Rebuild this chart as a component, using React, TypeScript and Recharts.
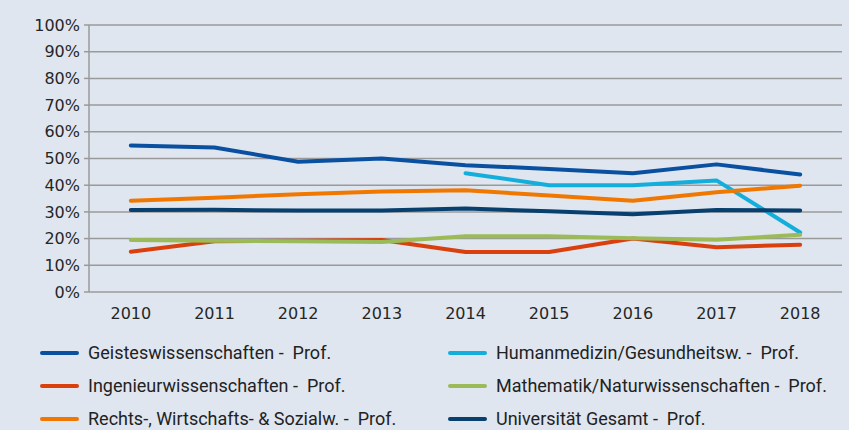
import React from 'react';
import { LineChart, Line, XAxis, YAxis, CartesianGrid } from 'recharts';

const years = ['2010', '2011', '2012', '2013', '2014', '2015', '2016', '2017', '2018'];
const geistes = [54.9, 54.1, 48.8, 50.0, 47.5, 46.1, 44.5, 47.8, 44.0];
const human = [null, null, null, null, 44.5, 40.0, 40.0, 41.8, 22.3];
const ingenieur = [15.1, 19.0, 19.2, 19.5, 15.0, 15.0, 20.0, 16.8, 17.7];
const mathe = [19.5, 19.2, 19.0, 18.7, 20.9, 20.9, 20.1, 19.6, 21.4];
const rechts = [34.2, 35.3, 36.6, 37.6, 38.1, 36.1, 34.2, 37.4, 39.8];
const gesamt = [30.7, 30.8, 30.5, 30.5, 31.3, 30.2, 29.1, 30.7, 30.5];
const yTicks = [0, 10, 20, 30, 40, 50, 60, 70, 80, 90, 100];
const boundaryTicks = [0, 1, 2, 3, 4, 5, 6, 7, 8, 9];

const series = [
  { key: 'geistes', name: 'Geisteswissenschaften -  Prof.', color: '#0a50a0', values: geistes },
  { key: 'human', name: 'Humanmedizin/Gesundheitsw. -  Prof.', color: '#13aedc', values: human },
  { key: 'ingenieur', name: 'Ingenieurwissenschaften -  Prof.', color: '#d9400e', values: ingenieur },
  { key: 'mathe', name: 'Mathematik/Naturwissenschaften -  Prof.', color: '#9bbb59', values: mathe },
  { key: 'rechts', name: 'Rechts-, Wirtschafts- & Sozialw. -  Prof.', color: '#f07800', values: rechts },
  { key: 'gesamt', name: 'Universität Gesamt -  Prof.', color: '#073f6e', values: gesamt },
];

const data = years.map((y, i) => {
  const row: any = { year: y };
  series.forEach((s) => {
    row[s.key] = s.values[i];
  });
  return row;
});

const axisFont = { fontFamily: 'DejaVu Sans', fontSize: 16, fill: '#262626' };
const gridColor = '#9a9a9a';

export default function App() {
  return (
    <div
      style={{
        position: 'absolute',
        left: 0,
        top: 0,
        width: 849,
        height: 430,
        background: '#dfe6f0',
        overflow: 'hidden',
      }}
    >
      <LineChart width={849} height={430} data={data} margin={{ top: 25, right: 7, bottom: 108, left: 0 }}>
        <CartesianGrid vertical={false} stroke={gridColor} strokeWidth={1.5} />
        <XAxis
          xAxisId="bounds"
          type="number"
          domain={[0, 9]}
          ticks={boundaryTicks}
          tick={false}
          height={0}
          tickSize={6}
          stroke={gridColor}
          strokeWidth={1.5}
          allowDataOverflow
        />
        <XAxis
          xAxisId="cat"
          dataKey="year"
          scale="band"
          height={30}
          axisLine={false}
          tickLine={false}
          tickSize={6}
          tickMargin={10}
          tick={axisFont}
        />
        <YAxis
          domain={[0, 100]}
          ticks={yTicks}
          width={89}
          tickFormatter={(v) => `${v}%`}
          tick={axisFont}
          tickSize={5}
          tickMargin={4}
          stroke={gridColor}
          strokeWidth={1.5}
          interval={0}
        />
        <YAxis
          yAxisId="right"
          orientation="right"
          width={0}
          domain={[0, 100]}
          tick={false}
          tickLine={false}
          stroke={gridColor}
          strokeWidth={1.5}
        />
        {series.map((s) => (
          <Line
            key={s.key}
            xAxisId="cat"
            dataKey={s.key}
            name={s.name}
            stroke={s.color}
            strokeWidth={4}
            dot={false}
            activeDot={false}
            strokeLinejoin="round"
            strokeLinecap="round"
            isAnimationActive={false}
          />
        ))}
      </LineChart>
      <div
        style={{
          position: 'absolute',
          left: 40,
          top: 344,
          width: 809,
          display: 'grid',
          gridTemplateColumns: '408px 400px',
          gridAutoRows: '33px',
          fontFamily: 'Roboto, sans-serif',
          fontSize: 18,
          lineHeight: '18px',
          color: '#222',
        }}
      >
        {series.map((s) => (
          <div key={s.key} style={{ display: 'flex', alignItems: 'center', height: 18, whiteSpace: 'pre' }}>
            <span
              style={{
                display: 'inline-block',
                width: 39,
                height: 4,
                borderRadius: 2,
                background: s.color,
                marginRight: 9,
              }}
            />
            <span>{s.name}</span>
          </div>
        ))}
      </div>
    </div>
  );
}
